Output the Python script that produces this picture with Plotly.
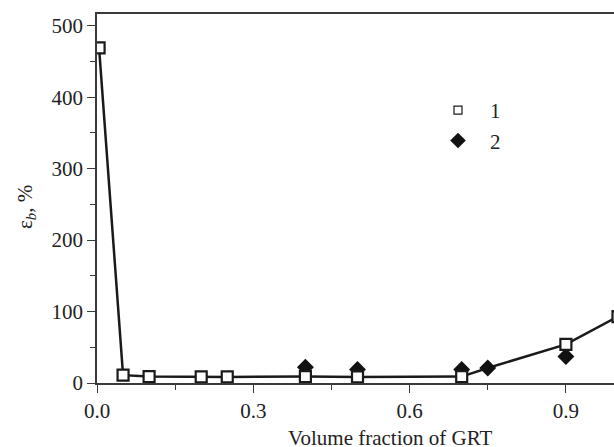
import plotly.graph_objects as go

# Series 1 (open squares)
s1_x = [0.004, 0.05, 0.1, 0.2, 0.25, 0.4, 0.5, 0.7, 0.9, 1.0]
s1_y = [469, 11, 9, 8.5, 8.5, 9, 8.5, 9, 54, 93]
# Series 2 (filled diamonds)
s2_x = [0.4, 0.5, 0.7, 0.75, 0.9]
s2_y = [22, 19, 19, 21, 37]
# Connecting curve
line_x = [0.004, 0.05, 0.1, 0.2, 0.25, 0.4, 0.5, 0.7, 0.75, 0.9, 1.0]
line_y = [469, 11, 9, 8.5, 8.5, 9, 8.5, 9, 21, 54, 93]

x_ticks = [0.0, 0.3, 0.6, 0.9]
y_ticks = [0, 100, 200, 300, 400, 500]
legend_names = ["1", "2"]

FONT = '"Liberation Serif", "Times New Roman", serif'
AX = "#3a3a3a"
TXT = "#222222"
FS = 21

fig = go.Figure()
fig.add_trace(go.Scatter(x=line_x, y=line_y, mode="lines",
                         line=dict(color="#1a1a1a", width=2.5),
                         showlegend=False, hoverinfo="skip"))
fig.add_trace(go.Scatter(x=s2_x, y=s2_y, mode="markers",
                         marker=dict(symbol="diamond", size=13, color="#111111",
                                     line=dict(width=0)),
                         showlegend=False))
fig.add_trace(go.Scatter(x=s1_x, y=s1_y, mode="markers",
                         marker=dict(symbol="square", size=11, color="white",
                                     line=dict(color="#1a1a1a", width=2.2)),
                         showlegend=False))
# legend entries
fig.add_trace(go.Scatter(x=[None], y=[None], mode="markers", name=legend_names[0],
                         marker=dict(symbol="square", size=8, color="white",
                                     line=dict(color="#1a1a1a", width=1.2))))
fig.add_trace(go.Scatter(x=[None], y=[None], mode="markers", name=legend_names[1],
                         marker=dict(symbol="diamond", size=12, color="#111111",
                                     line=dict(width=0))))

W = 622  # plot area runs past the 614 px window edge, as in the cropped original
plot_w = W - 97

fig.update_layout(
    width=W, height=447,
    margin=dict(l=97, r=0, t=14, b=64, autoexpand=False),
    plot_bgcolor="white", paper_bgcolor="white",
    font=dict(family=FONT, size=FS, color=TXT),
    showlegend=True,
    legend=dict(x=(426 - 97) / plot_w, y=0.794, xanchor="left", yanchor="top",
                bgcolor="rgba(0,0,0,0)", itemwidth=54,
                font=dict(family=FONT, size=FS, color=TXT),
                tracegroupgap=0),
    xaxis=dict(range=[0, plot_w / 521.0], tickvals=x_ticks, tickformat=".1f",
               automargin=False,
               showgrid=False, zeroline=False,
               showline=True, linecolor=AX, linewidth=1.5, mirror=True,
               ticks="outside", ticklen=8, tickwidth=1.3, tickcolor=AX,
               minor=dict(dtick=0.15, tick0=0, ticks="outside", ticklen=5,
                          tickwidth=1.2, tickcolor=AX),
               tickfont=dict(family=FONT, size=FS, color=TXT)),
    yaxis=dict(range=[0, 516.5], tickvals=y_ticks,
               automargin=False,
               showgrid=False, zeroline=False,
               showline=True, linecolor=AX, linewidth=1.5,
               ticks="outside", ticklen=8, tickwidth=1.3, tickcolor=AX,
               minor=dict(dtick=50, tick0=0, ticks="outside", ticklen=5,
                          tickwidth=1.2, tickcolor=AX),
               tickfont=dict(family=FONT, size=FS, color=TXT)),
    annotations=[
        dict(text="Volume fraction of GRT", xref="paper", yref="paper",
             x=(389.5 - 97) / plot_w, y=0, xanchor="center", yanchor="top", yshift=-41,
             showarrow=False, font=dict(family=FONT, size=FS, color=TXT)),
        dict(text="ε<sub><i>b</i></sub>, %", xref="paper", yref="paper",
             x=(26 - 97) / plot_w, y=0.477, xanchor="center", yanchor="middle", textangle=-90,
             showarrow=False, font=dict(family=FONT, size=FS, color=TXT)),
    ],
)

fig.write_html("out.html", config={"displayModeBar": False},
               post_script="document.body.style.margin='0';document.body.style.overflow='hidden';document.documentElement.style.overflow='hidden';")
